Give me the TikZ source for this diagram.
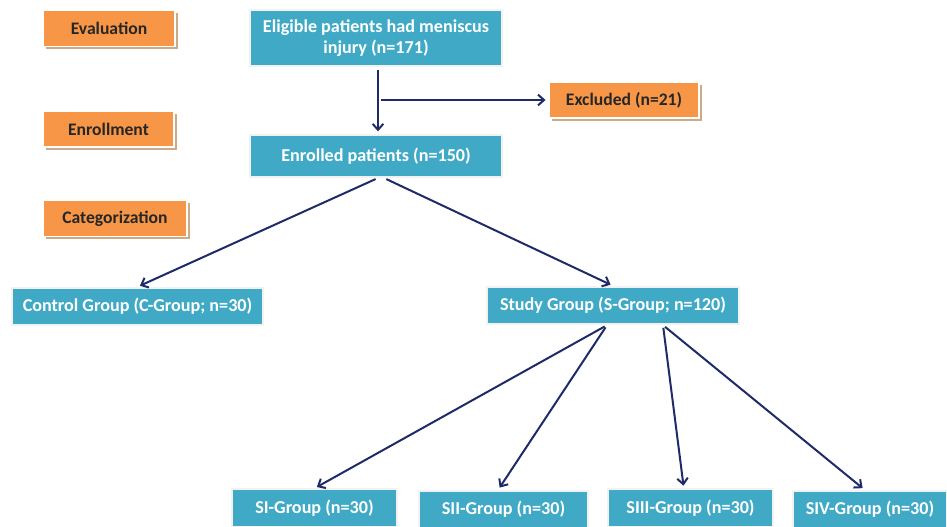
\documentclass[tikz,border=0pt]{standalone}
\usepackage{fontspec}
\setmainfont{Carlito}
\usepackage{tikz}
\usetikzlibrary{arrows.meta, positioning, shadows}
\tikzset{
    phasebox/.style={rectangle, fill=phaseorange, draw=white, line width=1.2pt, minimum width=#1, minimum height=27pt, align=center, font=\bfseries\fontsize{13.2}{15}\selectfont, text=black!85, drop shadow={fill=shadowtan, opacity=1, shadow xshift=2.2pt, shadow yshift=-2.2pt}},
    flowbox/.style={rectangle, fill=flowteal, draw=gray!10, line width=1.5pt, minimum width=#1, minimum height=28pt, align=center, font=\bfseries\fontsize{13.6}{15.8}\selectfont, text=white, inner sep=2pt},
    flowarrow/.style={-{Straight Barb[length=4.5pt, width=8pt]}, arrownavy, line width=1.5pt, shorten >=2pt, shorten <=2pt}
}
\definecolor{phaseorange}{RGB}{247,150,70}
\definecolor{shadowtan}{RGB}{205,170,135}
\definecolor{flowteal}{RGB}{64,170,198}
\definecolor{arrownavy}{RGB}{31,42,104}

\begin{document}
\begin{tikzpicture}[x=0.75pt, y=-0.75pt]

\useasboundingbox (0,0) rectangle (947,527);

\node[phasebox=99pt] (evalphase) at (109,28.5) {Evaluation};
\node[phasebox=98pt] (enrolphase) at (108.5,129) {Enrollment};
\node[phasebox=108pt] (catphase) at (115,218.5) {Categorization};

\node[flowbox=189pt, minimum height=42pt] (eligible) at (376,38) {Eligible patients had meniscus\\injury (n=171)};
\node[phasebox=112.5pt] (excluded) at (624,100) {Excluded (n=21)};
\node[flowbox=189pt, minimum height=31.5pt] (enrolled) at (376,156) {Enrolled patients (n=150)};

\node[flowbox=188pt] (control) at (137.5,306.5) {Control Group (C-Group; n=30)};
\node[flowbox=189pt] (study) at (613,305.5) {Study Group (S-Group; n=120)};

\node[flowbox=123.75pt] (sione) at (314.5,508) {SI-Group (n=30)};
\node[flowbox=126.75pt] (sitwo) at (503.5,509.5) {SII-Group (n=30)};
\node[flowbox=123.75pt] (sithree) at (690.5,508) {SIII-Group (n=30)};
\node[flowbox=115.5pt] (sifour) at (870,509.5) {SIV-Group (n=30)};

\draw[flowarrow] ([xshift=1.5pt]eligible.south) -- ([xshift=1.5pt]enrolled.north);
\draw[flowarrow] ([xshift=1.5pt]eligible.south |- excluded.west) -- (excluded.west);

\draw[flowarrow] ([xshift=1.5pt]enrolled.south) -- (control.north);
\draw[flowarrow] ([xshift=6pt]enrolled.south) -- (study.north);

\draw[flowarrow] ([xshift=-4.5pt]study.south) -- (sione.north);
\draw[flowarrow] ([xshift=-4.5pt]study.south) -- ([xshift=-4pt]sitwo.north);
\draw[flowarrow] ([xshift=37.5pt]study.south) -- ([xshift=-5pt]sithree.north);
\draw[flowarrow] ([xshift=37.5pt]study.south) -- ([xshift=-4pt]sifour.north);

\end{tikzpicture}
\end{document}
